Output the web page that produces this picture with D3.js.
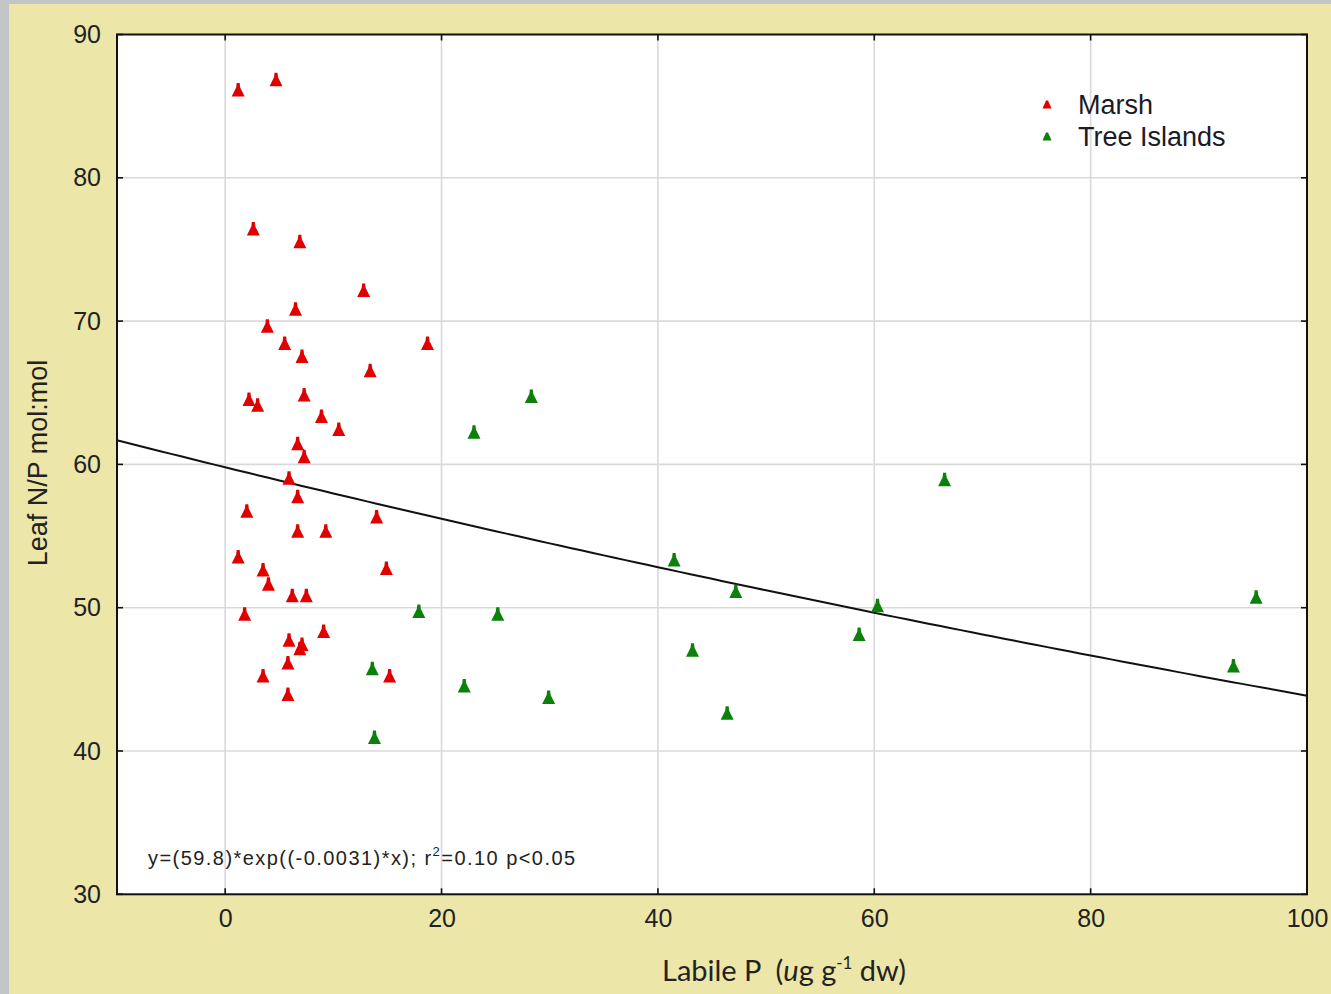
<!DOCTYPE html>
<html><head><meta charset="utf-8">
<script src="https://cdn.jsdelivr.net/npm/d3@7"></script>
<style>
html,body{margin:0;padding:0;background:#c3c6c7;}
svg{display:block;}
</style></head>
<body>
<svg id="chart" width="1331" height="994"></svg>
<script>
// ---- data ----
const marshX = [1.2,4.7,2.6,6.9,12.8,6.5,3.9,5.5,18.7,7.1,13.4,2.2,3.0,7.3,8.9,10.5,6.7,7.3,5.9,6.7,2.0,14.0,6.7,9.3,1.2,3.5,14.9,4.0,6.2,7.5,1.8,9.1,5.9,7.1,6.9,5.8,3.5,15.2,5.8];
const marshY = [86.1,86.8,76.4,75.5,72.1,70.8,69.6,68.4,68.4,67.5,66.5,64.5,64.1,64.8,63.3,62.4,61.4,60.5,59.0,57.7,56.7,56.3,55.3,55.3,53.5,52.6,52.7,51.6,50.8,50.8,49.5,48.3,47.7,47.4,47.1,46.1,45.2,45.2,43.9];
const treeX = [13.8,13.6,17.9,23.0,28.3,25.2,22.1,29.9,41.5,47.2,43.2,46.4,60.3,58.6,66.5,95.3,93.2];
const treeY = [40.9,45.7,49.7,62.2,64.7,49.5,44.5,43.7,53.3,51.1,47.0,42.6,50.1,48.1,58.9,50.7,45.9];
const seriesNames = ["Marsh","Tree Islands"];
const seriesColors = ["#e00000","#0b800b"];
const xTicks = [0,20,40,60,80,100];
const yTicks = [30,40,50,60,70,80,90];
const fitA = 59.8, fitB = -0.0031;
const fitXs = [-10,100];
const equationText = "y=(59.8)*exp((-0.0031)*x); r";

// ---- layout ----
const svg = d3.select("#chart");
const W = 1331, H = 994;
const L = 117, R = 1307, T = 34.5, B = 894.3;
const FONT = "Liberation Sans, Arial, sans-serif";

svg.append("rect").attr("x",9).attr("y",4).attr("width",W-9).attr("height",H-4).attr("fill","#ede6a9");

const x = d3.scaleLinear().domain([-10,100]).range([L,R]);
const y = d3.scaleLinear().domain([30,90]).range([B,T]);

svg.append("rect").attr("x",L).attr("y",T).attr("width",R-L).attr("height",B-T).attr("fill","#ffffff");

// grid
const g = svg.append("g");
g.selectAll(".gx").data(xTicks).enter().append("line")
  .attr("x1",d=>x(d)).attr("x2",d=>x(d)).attr("y1",T).attr("y2",B)
  .attr("stroke","#d9d9dc").attr("stroke-width",1.6);
g.selectAll(".gy").data(yTicks.filter(d=>d>30&&d<90)).enter().append("line")
  .attr("y1",d=>y(d)).attr("y2",d=>y(d)).attr("x1",L).attr("x2",R)
  .attr("stroke","#d9d9dc").attr("stroke-width",1.6);

// inward ticks on all sides
const tk = 6;
xTicks.forEach(v=>{
  g.append("line").attr("x1",x(v)).attr("x2",x(v)).attr("y1",B).attr("y2",B-tk).attr("stroke","#111").attr("stroke-width",1.6);
  g.append("line").attr("x1",x(v)).attr("x2",x(v)).attr("y1",T).attr("y2",T+tk).attr("stroke","#111").attr("stroke-width",1.6);
});
yTicks.forEach(v=>{
  g.append("line").attr("x1",L).attr("x2",L+tk).attr("y1",y(v)).attr("y2",y(v)).attr("stroke","#111").attr("stroke-width",1.6);
  g.append("line").attr("x1",R).attr("x2",R-tk).attr("y1",y(v)).attr("y2",y(v)).attr("stroke","#111").attr("stroke-width",1.6);
});

// axis tick labels via d3 axes
const xAxis = d3.axisBottom(x).tickValues(xTicks).tickSize(0).tickPadding(15);
const ax = svg.append("g").attr("transform",`translate(0,${B})`).call(xAxis);
ax.select(".domain").remove();
ax.selectAll("text").attr("font-family",FONT).attr("font-size",25).attr("fill","#222");

const yAxis = d3.axisLeft(y).tickValues(yTicks).tickSize(0).tickPadding(16);
const ay = svg.append("g").attr("transform",`translate(${L},0)`).call(yAxis);
ay.select(".domain").remove();
ay.selectAll("text").attr("font-family",FONT).attr("font-size",25).attr("fill","#222");

// fit line
const line = d3.line().x(d=>x(d[0])).y(d=>y(d[1]));
const fitPts = d3.range(fitXs[0], fitXs[1]+0.5, 1).map(v=>[v, fitA*Math.exp(fitB*v)]);
svg.append("path").attr("d",line(fitPts)).attr("fill","none").attr("stroke","#111").attr("stroke-width",2);

// markers
const tri = "M0,-7.5 L1.5,-7.5 L2,-3 L6.5,6 L-6.5,6 L-2,-3 L-1.5,-7.5 Z";
function drawSeries(xs, ys, color){
  svg.append("g").selectAll("path").data(xs.map((v,i)=>[v,ys[i]])).enter().append("path")
    .attr("d",tri).attr("transform",d=>`translate(${x(d[0])},${y(d[1])})`)
    .attr("fill",color);
}
drawSeries(marshX, marshY, seriesColors[0]);
drawSeries(treeX, treeY, seriesColors[1]);

// border
svg.append("rect").attr("x",L).attr("y",T).attr("width",R-L).attr("height",B-T)
  .attr("fill","none").attr("stroke","#111").attr("stroke-width",2);

// legend
const leg = svg.append("g");
seriesNames.forEach((n,i)=>{
  const cy = 105 + i*32;
  leg.append("path").attr("d","M0,-4.5 L1,-4.5 L4.5,3.5 L-4.5,3.5 L-1,-4.5 Z").attr("transform",`translate(1047,${cy})`).attr("fill",seriesColors[i]);
  leg.append("text").attr("x",1078).attr("y",cy+9).text(n)
    .attr("font-family",FONT).attr("font-size",27).attr("fill","#1a1a2a");
});

// equation
const eq = svg.append("text").attr("x",148).attr("y",865)
  .attr("font-family",FONT).attr("font-size",20).attr("letter-spacing",1.45).attr("fill","#222");
eq.append("tspan").text(equationText);
eq.append("tspan").text("2").attr("font-size",13).attr("dy",-9);
eq.append("tspan").text("=0.10 p<0.05").attr("dy",9);

// axis titles
svg.append("text").attr("transform","translate(47,463) rotate(-90)").attr("text-anchor","middle")
  .attr("font-family",FONT).attr("font-size",27).attr("fill","#222")
  .text("Leaf N/P mol:mol");
const xt = svg.append("text").attr("x",662).attr("y",981).style("white-space","pre")
  .attr("font-family","Lato, Liberation Sans, sans-serif").attr("font-size",29).attr("fill","#222");
xt.append("tspan").text("Labile P  (");
xt.append("tspan").text("u").attr("font-style","italic");
xt.append("tspan").text("g g");
xt.append("tspan").text("-1").attr("font-size",17).attr("dy",-12);
xt.append("tspan").text(" dw)").attr("dy",12);
</script>
</body></html>
